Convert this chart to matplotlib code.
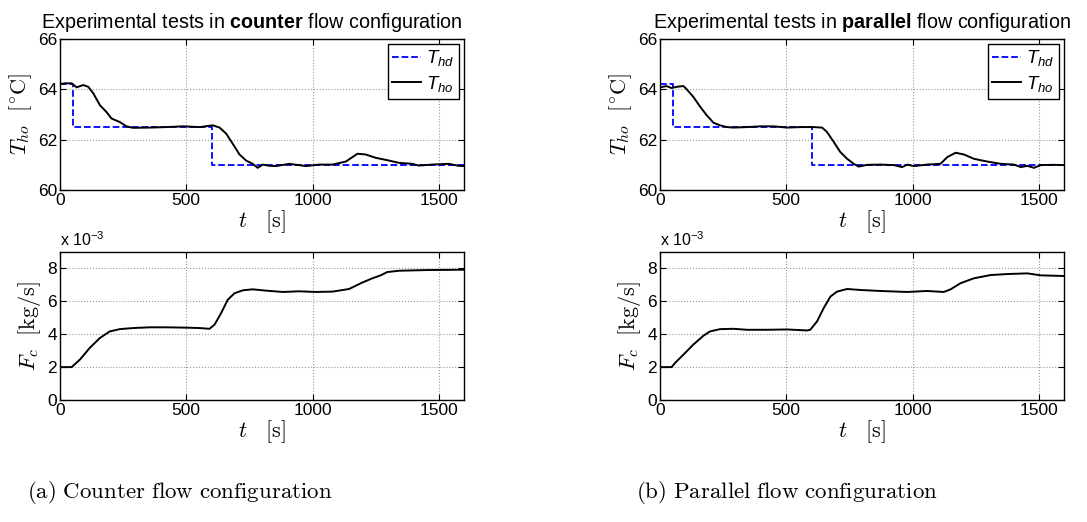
import numpy as np
import matplotlib
matplotlib.use("Agg")
import matplotlib.pyplot as plt
from matplotlib.font_manager import FontProperties

plt.rcParams["font.family"] = "Liberation Sans"
plt.rcParams["mathtext.fontset"] = "cm"
plt.rcParams["mathtext.rm"] = "Liberation Sans"
plt.rcParams["mathtext.it"] = "Liberation Sans:italic"
plt.rcParams["mathtext.bf"] = "Liberation Sans:bold"

# ---- data ----
# counter flow, outlet temperature T_ho [C]
t_ho_counter = [0, 20, 46, 66, 92, 112, 132, 158, 184, 204, 237, 263, 289, 355, 421, 487,
                553, 605, 632, 658, 684, 711, 737, 763, 783, 803, 829, 855, 908, 974, 1026,
                1079, 1132, 1178, 1211, 1250, 1303, 1342, 1395, 1421, 1474, 1539, 1579, 1600]
T_ho_counter = [64.21, 64.24, 64.24, 64.08, 64.17, 64.10, 63.84, 63.37, 63.10, 62.84, 62.70,
                62.53, 62.47, 62.48, 62.50, 62.53, 62.50, 62.57, 62.48, 62.24, 61.84, 61.41,
                61.17, 61.04, 60.88, 61.01, 60.96, 60.95, 61.04, 60.95, 61.01, 61.01, 61.13,
                61.44, 61.41, 61.28, 61.17, 61.08, 61.04, 60.97, 61.01, 61.04, 60.96, 60.95]
# parallel flow, outlet temperature T_ho [C]
t_ho_parallel = [0, 26, 46, 66, 93, 106, 132, 159, 185, 212, 238, 265, 291, 344, 397, 450,
                 503, 556, 608, 642, 661, 688, 714, 741, 767, 787, 820, 873, 926, 959, 979,
                 1005, 1058, 1111, 1138, 1171, 1204, 1243, 1296, 1349, 1402, 1429, 1455, 1481,
                 1508, 1561, 1600]
T_ho_parallel = [64.08, 64.13, 64.05, 64.10, 64.13, 64.00, 63.70, 63.31, 62.97, 62.67, 62.57,
                 62.50, 62.48, 62.50, 62.53, 62.53, 62.48, 62.50, 62.50, 62.48, 62.31, 61.91,
                 61.51, 61.24, 61.04, 60.93, 61.00, 61.01, 60.99, 60.91, 61.01, 60.95, 61.01,
                 61.04, 61.31, 61.48, 61.41, 61.24, 61.13, 61.04, 61.01, 60.91, 60.96, 60.88,
                 60.99, 61.00, 60.99]
# set point T_hd [C] (same steps for both tests)
t_hd = [0, 50, 50, 600, 600, 1600]
T_hd = [64.2, 64.2, 62.5, 62.5, 61.0, 61.0]

# cold flow F_c [x 1e-3 kg/s]
t_fc_counter = [0, 46, 79, 118, 158, 197, 237, 289, 355, 421, 500, 553, 592, 612, 638, 664,
                691, 724, 763, 816, 882, 947, 1013, 1079, 1145, 1197, 1237, 1270, 1296, 1342,
                1447, 1579, 1600]
fc_counter = [2.0, 2.0, 2.46, 3.17, 3.77, 4.17, 4.31, 4.375, 4.42, 4.42, 4.40, 4.375, 4.33,
              4.58, 5.28, 6.09, 6.49, 6.67, 6.73, 6.65, 6.57, 6.61, 6.57, 6.59, 6.75, 7.14,
              7.40, 7.58, 7.78, 7.86, 7.90, 7.92, 7.92]
t_fc_parallel = [0, 46, 60, 93, 132, 172, 198, 238, 291, 344, 423, 503, 582, 595, 622, 648,
                 675, 701, 741, 794, 873, 979, 1058, 1124, 1151, 1190, 1243, 1310, 1376, 1455,
                 1508, 1600]
fc_parallel = [2.0, 2.0, 2.26, 2.76, 3.37, 3.91, 4.17, 4.31, 4.33, 4.27, 4.27, 4.29, 4.23,
               4.27, 4.78, 5.58, 6.29, 6.59, 6.75, 6.69, 6.63, 6.57, 6.63, 6.57, 6.73, 7.10,
               7.40, 7.60, 7.66, 7.70, 7.58, 7.54]

panels = [
    ("counter", t_ho_counter, T_ho_counter, t_fc_counter, fc_counter,
     "(a)\\ Counter\\ flow\\ configuration", 180, 0.475),
    ("parallel", t_ho_parallel, T_ho_parallel, t_fc_parallel, fc_parallel,
     "(b)\\ Parallel\\ flow\\ configuration", 787, 0.5),
]
lefts = [60 / 1087, 660 / 1087]
width = 404 / 1087

fig = plt.figure(figsize=(10.87, 5.22), dpi=100)


def style(ax):
    ax.tick_params(direction="in", top=True, right=True, labelsize=12.5, pad=2,
                   length=4, width=0.8)
    ax.grid(True, linestyle=":", color="#999999", linewidth=0.8)
    for s in ax.spines.values():
        s.set_linewidth(1.0)
    ax.set_xlim(0, 1600)
    ax.set_xticks([0, 500, 1000, 1500])
    ax.set_xlabel(r"$t\quad[\mathrm{s}]$", fontsize=16, labelpad=0)


leg_prop = FontProperties(family="Liberation Sans", size=13.5, math_fontfamily="custom")

for (name, tt, TT, tf, ff, cap, capx, tx), left in zip(panels, lefts):
    ax1 = fig.add_axes([left, 332 / 522, width, 151 / 522])
    ax1.plot(t_hd, T_hd, "--", color="#0000ff", lw=1.3, label=r"$T_{hd}$")
    ax1.plot(tt, TT, "-", color="black", lw=1.4, label=r"$T_{ho}$")
    style(ax1)
    ax1.set_ylim(60, 66)
    ax1.set_yticks([60, 62, 64, 66])
    ax1.set_ylabel(r"$T_{ho}\ \ [^{\circ}\mathrm{C}]$", fontsize=16, labelpad=3)
    ax1.set_title("Experimental tests in $\\bf{%s}$ flow configuration" % name,
                  fontsize=14.2, pad=8, x=tx, math_fontfamily="custom")
    leg = ax1.legend(loc="upper right", prop=leg_prop, handlelength=1.5,
                     handletextpad=0.3, borderpad=0.25, labelspacing=0.3,
                     fancybox=False, framealpha=1, edgecolor="black",
                     borderaxespad=0.25)
    leg.get_frame().set_linewidth(1.0)

    ax2 = fig.add_axes([left, 122 / 522, width, 148 / 522])
    ax2.plot(tf, ff, "-", color="black", lw=1.4)
    style(ax2)
    ax2.set_ylim(0, 9)
    ax2.set_yticks([0, 2, 4, 6, 8])
    ax2.set_ylabel(r"$F_{c}\ \ [\mathrm{kg/s}]$", fontsize=16, labelpad=3)
    ax2.text(0, 1.02, r"x 10$^{-3}$", transform=ax2.transAxes, fontsize=11.5,
             ha="left", va="bottom", math_fontfamily="custom")

    fig.text(capx / 1087, 30 / 522, r"$\mathrm{%s}$" % cap,
             fontsize=16.5, ha="center", va="center")

fig.savefig("out.png", dpi=100)
